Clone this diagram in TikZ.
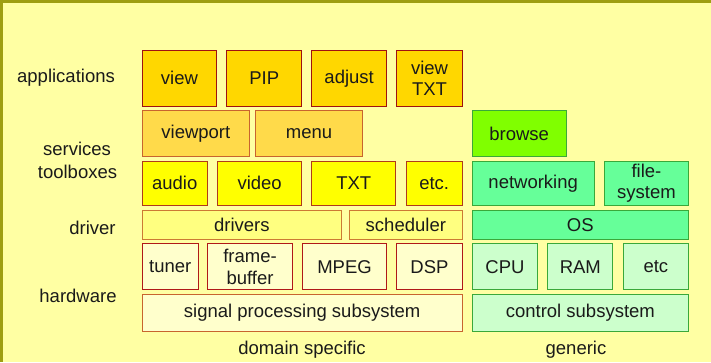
\documentclass[tikz,border=0pt]{standalone}
\usepackage{fontspec}
\setmainfont{Liberation Sans}
\definecolor{bgc}{HTML}{FFFFA3}
\definecolor{framec}{HTML}{9E9E12}
\definecolor{txtc}{HTML}{1A1A1A}
\definecolor{appf}{HTML}{FFD700}
\definecolor{appd}{HTML}{A01010}
\definecolor{srvf}{HTML}{FFDA4A}
\definecolor{srvd}{HTML}{C8642E}
\definecolor{brwf}{HTML}{80FF00}
\definecolor{grnd}{HTML}{3AA83A}
\definecolor{tlbf}{HTML}{FFFF00}
\definecolor{tlbd}{HTML}{B03A1A}
\definecolor{drvf}{HTML}{FFFF80}
\definecolor{drvd}{HTML}{CC7A33}
\definecolor{osf}{HTML}{66FF99}
\definecolor{hwf}{HTML}{FFFFCC}
\definecolor{hwd}{HTML}{B01818}
\definecolor{cpuf}{HTML}{CCFFCC}
\newcommand\mybox[7]{\node[layerbox,#6,minimum width={#4pt-#2pt-1pt},minimum height={#5pt-#3pt-1pt}] (#1) at ({(#2+#4)/2},{-(#3+#5)/2}) {#7};}
\begin{document}
\begin{tikzpicture}[x=1pt,y=1pt,
  every node/.style={font=\fontsize{18.5}{21.5}\selectfont, text=txtc},
  layerbox/.style={rectangle, line width=1pt, inner sep=0pt, outer sep=0pt, align=center},
  app/.style={fill=appf, draw=appd},
  srv/.style={fill=srvf, draw=srvd},
  brw/.style={fill=brwf, draw=grnd},
  tlb/.style={fill=tlbf, draw=tlbd},
  drv/.style={fill=drvf, draw=drvd},
  osb/.style={fill=osf, draw=grnd},
  hw/.style={fill=hwf, draw=hwd},
  sig/.style={fill=hwf, draw=srvd},
  cpu/.style={fill=cpuf, draw=grnd},
  lbl/.style={inner sep=0pt}]
\useasboundingbox (0,0) rectangle (711,-362);
\fill[bgc] (0,0) rectangle (711,-362);
\draw[framec, line width=3pt] (1.5,-362) -- (1.5,-1.5) -- (711,-1.5);
% applications
\mybox{view}{141.7}{50}{217.3}{106.7}{app}{view}
\mybox{pip}{226.3}{50}{302.3}{106.7}{app}{PIP}
\mybox{adjust}{311.3}{50}{387}{106.7}{app}{adjust}
\mybox{viewtxt}{396.3}{50}{462.7}{106.7}{app}{view\\TXT}
% services
\mybox{viewport}{141.7}{110}{250}{157}{srv}{viewport}
\mybox{menu}{254.7}{110}{363.3}{157}{srv}{menu}
\mybox{browse}{471.7}{110}{566.7}{157}{brw}{browse}
% toolboxes
\mybox{audio}{141.7}{160.7}{207.7}{206}{tlb}{audio}
\mybox{video}{217}{160.7}{302.3}{206}{tlb}{video}
\mybox{txt}{311.3}{160.7}{396.3}{206}{tlb}{TXT}
\mybox{etcA}{405.7}{160.7}{462.7}{206}{tlb}{etc.}
\mybox{networking}{471.7}{160.7}{594.7}{206}{osb}{networking}
\mybox{filesystem}{604}{160.7}{689}{206}{osb}{file-\\system}
% driver
\mybox{drivers}{141.7}{209.7}{342}{239.7}{drv}{drivers}
\mybox{scheduler}{349}{209.7}{462.7}{239.7}{drv}{scheduler}
\mybox{os}{471.7}{209.7}{689}{239.7}{osb}{OS}
% hardware
\mybox{tuner}{141.7}{243.3}{198.7}{290.3}{hw}{tuner}
\mybox{framebuffer}{207.3}{243.3}{292.7}{290.3}{hw}{frame-\\buffer}
\mybox{mpeg}{302}{243.3}{387}{290.3}{hw}{MPEG}
\mybox{dsp}{396.3}{243.3}{462.7}{290.3}{hw}{DSP}
\mybox{cpu}{471.7}{243.3}{538.3}{290.3}{cpu}{CPU}
\mybox{ram}{547.3}{243.3}{613.3}{290.3}{cpu}{RAM}
\mybox{etcB}{622.7}{243.3}{689}{290.3}{cpu}{etc}
% subsystems
\mybox{signal}{141.7}{294.3}{462.7}{332}{sig}{signal processing subsystem}
\mybox{control}{471.7}{294.3}{689}{332}{cpu}{control subsystem}
% labels
\node[lbl] (lapps) at (66,-77.5) {applications};
\node[lbl] (lsrv) at (77,-149) {services};
\node[lbl] (ltlb) at (77.5,-172) {toolboxes};
\node[lbl] (ldrv) at (92.5,-227.7) {driver};
\node[lbl] (lhw) at (78,-296) {hardware};
\node[lbl] (ldom) at (302,-350) {domain specific};
\node[lbl] (lgen) at (576,-350) {generic};
\end{tikzpicture}
\end{document}
